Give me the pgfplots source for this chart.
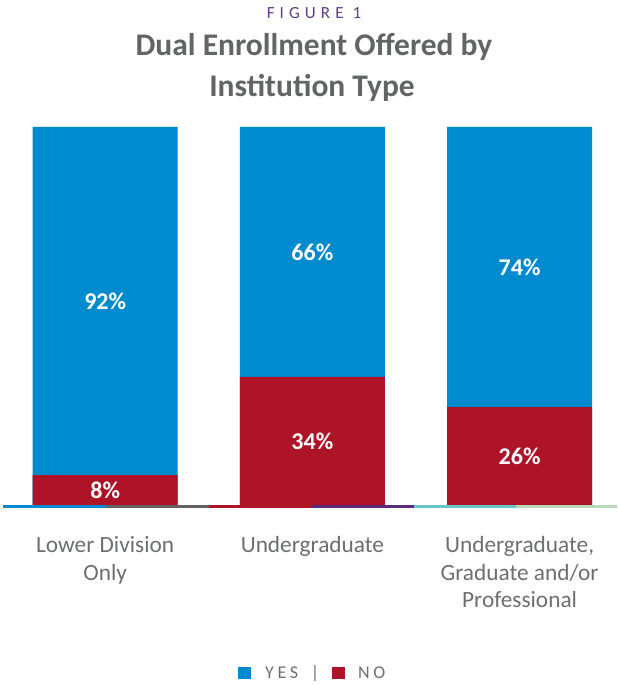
\documentclass[border=0pt]{standalone}
\usepackage{fontspec}
\setmainfont{Carlito}
\newfontfamily\figfont[LetterSpace=30]{Carlito}
\newfontfamily\legfont[LetterSpace=20]{Carlito}
\usepackage{pgfplots}
\pgfplotsset{compat=1.18}
\usepackage{pgfplotstable}
\definecolor{yesblue}{HTML}{008BCE}
\definecolor{nored}{HTML}{AE1328}
\definecolor{titlegray}{HTML}{636466}
\definecolor{labelgray}{HTML}{6D6E71}
\definecolor{figpurple}{HTML}{5C3D8A}
\definecolor{segGray}{HTML}{636363}
\definecolor{segPurple}{HTML}{5B2C7C}
\definecolor{segTeal}{HTML}{69C4C6}
\definecolor{segGreen}{HTML}{B7DBB7}
\pgfplotstableread{
x no yes
0 8 92
1 34 66
2 26 74
}\datatable
\begin{document}
\begin{tikzpicture}[x=1pt,y=1pt]
\path[use as bounding box] (0,0) rectangle (618,685);
\node[anchor=base, font=\figfont\fontsize{17}{20}\selectfont, text=figpurple, inner sep=0pt] at (314,666.7) {FIGURE 1};
\node[anchor=base, font=\fontsize{31.5}{36}\selectfont\bfseries, text=titlegray, inner sep=0pt] at (314,629) {Dual Enrollment Offered by};
\node[anchor=base, font=\fontsize{31.5}{36}\selectfont\bfseries, text=titlegray, inner sep=0pt] at (312,588.5) {Institution Type};
\begin{axis}[
  at={(3pt,179.5pt)}, anchor=south west,
  scale only axis, width=614pt, height=378.5pt,
  xmin=-0.4932, xmax=2.4701, ymin=0, ymax=100,
  clip=false,
  axis line style={draw=none}, tick style={draw=none},
  ytick=\empty,
  xtick={0,1,2},
  xticklabels={{Lower Division\\Only},{Undergraduate},{Undergraduate,\\Graduate and/or\\Professional}},
  xticklabel style={align=center, font=\fontsize{23.3}{27.3}\selectfont, text=labelgray, anchor=north, inner sep=0pt, yshift=-31pt},
]
\addplot[ybar, bar width=145pt, bar shift=0pt, fill=yesblue, draw=none] table[x=x, y expr=\thisrow{no}+\thisrow{yes}] {\datatable};
\addplot[ybar, bar width=145pt, bar shift=0pt, fill=nored, draw=none] table[x=x, y=no] {\datatable};
\addplot[draw=none, nodes near coords={\pgfplotspointmeta\%}, nodes near coords align={center}, point meta=explicit symbolic,
  every node near coord/.append style={font=\fontsize{24}{28}\selectfont\bfseries, text=white, anchor=center}]
  table[x=x, y expr=\thisrow{no}+\thisrow{yes}/2, meta=yes] {\datatable};
\addplot[draw=none, nodes near coords={\pgfplotspointmeta\%}, nodes near coords align={center}, point meta=explicit symbolic,
  every node near coord/.append style={font=\fontsize{24}{28}\selectfont\bfseries, text=white, anchor=center}]
  table[x=x, y expr=\thisrow{no}/2, meta=no] {\datatable};
\end{axis}
\fill[yesblue] (3,176.5) rectangle (106,179.5);
\fill[segGray] (106,176.5) rectangle (209,179.5);
\fill[nored] (209,176.5) rectangle (312,179.5);
\fill[segPurple] (312,176.5) rectangle (414,179.5);
\fill[segTeal] (414,176.5) rectangle (516,179.5);
\fill[segGreen] (516,176.5) rectangle (617,179.5);
% legend
\fill[yesblue] (238,6) rectangle (251,18);
\node[anchor=base west, inner sep=0pt, font=\legfont\fontsize{18}{20}\selectfont, text=labelgray] at (265,6) {YES};
\node[anchor=base, inner sep=0pt, font=\fontsize{18}{20}\selectfont, text=labelgray] at (315,6) {|};
\fill[nored] (332,6) rectangle (345,18);
\node[anchor=base west, inner sep=0pt, font=\legfont\fontsize{18}{20}\selectfont, text=labelgray] at (358,6) {NO};
\end{tikzpicture}
\end{document}
